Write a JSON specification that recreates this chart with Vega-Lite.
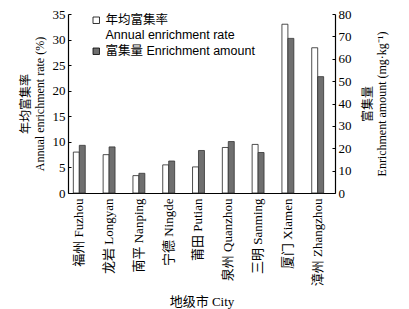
{
  "$schema": "https://vega.github.io/schema/vega-lite/v6.json",
  "autosize": {"type": "none"},
  "padding": {"left": 68, "top": 14, "right": 74, "bottom": 116},
  "width": 267,
  "height": 179,
  "background": "white",
  "config": {
    "view": {"stroke": null},
    "font": "Liberation Serif",
    "axis": {"domainColor": "black", "tickColor": "black", "grid": false, "labelColor": "black", "titleColor": "black", "labelFont": "Liberation Serif", "titleFont": "Liberation Serif, Noto Sans CJK SC", "titleFontWeight": "normal"}
  },
  "data": {
    "values": [
      {"city": "福州 Fuzhou", "series": "rate", "value": 8.0},
      {"city": "龙岩 Longyan", "series": "rate", "value": 7.5},
      {"city": "南平 Nanping", "series": "rate", "value": 3.4},
      {"city": "宁德 Ningde", "series": "rate", "value": 5.5},
      {"city": "莆田 Putian", "series": "rate", "value": 5.1},
      {"city": "泉州 Quanzhou", "series": "rate", "value": 8.9},
      {"city": "三明 Sanming", "series": "rate", "value": 9.5},
      {"city": "厦门 Xiamen", "series": "rate", "value": 33.0},
      {"city": "漳州 Zhangzhou", "series": "rate", "value": 28.4},
      {"city": "福州 Fuzhou", "series": "amount", "value": 21.3},
      {"city": "龙岩 Longyan", "series": "amount", "value": 20.6},
      {"city": "南平 Nanping", "series": "amount", "value": 8.8},
      {"city": "宁德 Ningde", "series": "amount", "value": 14.3},
      {"city": "莆田 Putian", "series": "amount", "value": 19.0},
      {"city": "泉州 Quanzhou", "series": "amount", "value": 23.0},
      {"city": "三明 Sanming", "series": "amount", "value": 18.1},
      {"city": "厦门 Xiamen", "series": "amount", "value": 69.1},
      {"city": "漳州 Zhangzhou", "series": "amount", "value": 52.0}
    ]
  },
  "encoding": {
    "x": {
      "field": "city", "type": "nominal", "sort": null,
      "scale": {"paddingInner": 0.6, "paddingOuter": 0.28, "align": 0.32},
      "axis": {"labelAngle": 270, "labelFont": "Liberation Serif, Noto Sans CJK SC", "labelFontSize": 13, "ticks": false, "labelPadding": 5, "title": "地级市 City", "titleFontSize": 13, "titlePadding": 10, "domainWidth": 1.2}
    },
    "xOffset": {"field": "series", "type": "nominal", "scale": {"domain": ["rate", "amount"], "paddingInner": 0}},
    "fill": {
      "field": "series", "type": "nominal",
      "scale": {"domain": ["rate", "amount"], "range": ["#ffffff", "#6f6f6f"]},
      "legend": {
        "orient": "none", "legendX": 22, "legendY": 0, "title": null,
        "labelExpr": "datum.value == 'rate' ? ['年均富集率', 'Annual enrichment rate'] : '富集量 Enrichment amount'",
        "labelFont": "Liberation Sans, Noto Sans CJK SC", "labelFontSize": 12.5, "labelColor": "black",
        "symbolType": "square", "symbolSize": 42, "symbolStrokeColor": "black", "symbolStrokeWidth": 0.8,
        "labelOffset": 3, "rowPadding": 3, "labelLimit": 300
      }
    }
  },
  "layer": [
    {
      "transform": [{"filter": "datum.series == 'rate'"}],
      "mark": {"type": "bar", "stroke": "#222222", "strokeWidth": 0.8},
      "encoding": {
        "y": {"field": "value", "type": "quantitative",
          "scale": {"domain": [0, 35], "nice": false},
          "axis": {"values": [0, 5, 10, 15, 20, 25, 30, 35], "tickSize": -3, "labelPadding": 6, "labelFontSize": 13, "title": ["年均富集率", "Annual enrichment rate (%)"], "titleFontSize": 12, "titlePadding": 6, "domainWidth": 1.2}
        }
      }
    },
    {
      "transform": [{"filter": "datum.series == 'amount'"}],
      "mark": {"type": "bar", "stroke": "#333333", "strokeWidth": 0.8},
      "encoding": {
        "y": {"field": "value", "type": "quantitative",
          "scale": {"domain": [0, 80], "nice": false},
          "axis": {"orient": "right", "values": [0, 10, 20, 30, 40, 50, 60, 70, 80], "tickSize": -3, "labelPadding": 6, "labelFontSize": 13, "title": ["富集量", "Enrichment amount (mg·kg⁻¹)"], "titleFontSize": 12, "titleAngle": 270, "titlePadding": 9, "domainWidth": 1.2}
        }
      }
    }
  ],
  "resolve": {"scale": {"y": "independent"}}
}
